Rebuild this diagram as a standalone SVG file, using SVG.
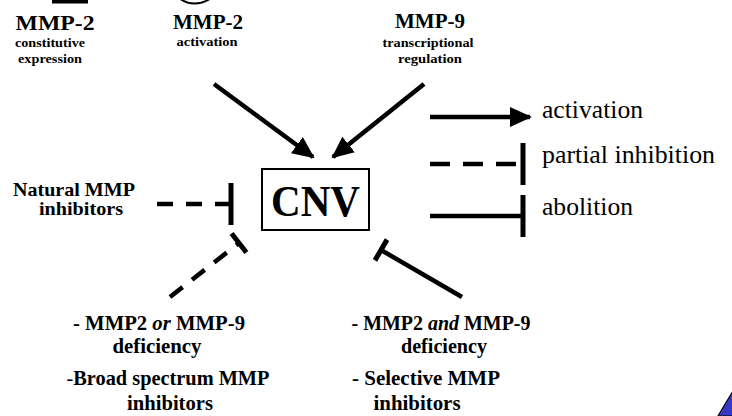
<svg xmlns="http://www.w3.org/2000/svg" width="732" height="416" viewBox="0 0 732 416">
<style>
.b{font-weight:bold;fill:#000;text-anchor:middle}
.l{font-size:25px;fill:#000}
.ln{stroke:#000;stroke-width:4.5;fill:none}
.ds{stroke-dasharray:16 13}
</style>
<defs>
<marker id="arr" markerUnits="userSpaceOnUse" markerWidth="24" markerHeight="22" viewBox="0 -11 24 22" refX="20" refY="0" orient="auto"><path d="M0,-10 L22,0 L0,10 Z" fill="#000"/></marker>
<marker id="barL" markerUnits="userSpaceOnUse" markerWidth="6" markerHeight="44" viewBox="-3 -22 6 44" refX="0" refY="0" orient="auto"><rect x="-2.5" y="-21" width="5" height="42" fill="#000"/></marker>
<marker id="barS" markerUnits="userSpaceOnUse" markerWidth="6" markerHeight="26" viewBox="-3 -13 6 26" refX="0" refY="0" orient="auto"><rect x="-2.5" y="-12" width="5" height="24" fill="#000"/></marker>
</defs>
<rect width="732" height="416" fill="#fff"/>
<!-- cropped top elements -->
<rect x="52" y="0" width="36" height="3.5" fill="#000"/>
<path d="M180,0 Q194,9 210,0 L206,0 Q194,5 184,0 Z" fill="#000"/>
<!-- bottom-right blue corner -->
<path d="M718,416 Q725,404 733,391 L733,416 Z" fill="#3838c8" stroke="#000" stroke-width="1.2"/>

<g font-family="Liberation Serif, Times New Roman, DejaVu Serif, serif">
<g id="mmp2-const">
<text class="b" x="55" y="30" font-size="22" textLength="79" lengthAdjust="spacingAndGlyphs">MMP-2</text>
<text class="b" x="50" y="47" font-size="13.5" textLength="70" lengthAdjust="spacingAndGlyphs">constitutive</text>
<text class="b" x="50" y="63" font-size="13.5" textLength="64" lengthAdjust="spacingAndGlyphs">expression</text>
</g>
<g id="mmp2-act">
<text class="b" x="208" y="29" font-size="22" textLength="70" lengthAdjust="spacingAndGlyphs">MMP-2</text>
<text class="b" x="207" y="46" font-size="13.5" textLength="61" lengthAdjust="spacingAndGlyphs">activation</text>
</g>
<g id="mmp9">
<text class="b" x="430" y="28" font-size="22" textLength="70" lengthAdjust="spacingAndGlyphs">MMP-9</text>
<text class="b" x="428" y="47" font-size="13.5" textLength="91" lengthAdjust="spacingAndGlyphs">transcriptional</text>
<text class="b" x="430" y="63" font-size="13.5" textLength="64" lengthAdjust="spacingAndGlyphs">regulation</text>
</g>
<g id="cnv">
<rect x="262" y="169" width="107" height="61" fill="none" stroke="#000" stroke-width="2"/>
<text class="b" x="315.5" y="216" font-size="44" textLength="89" lengthAdjust="spacingAndGlyphs">CNV</text>
</g>
<g id="natural">
<text class="b" x="74" y="196" font-size="19" textLength="122" lengthAdjust="spacingAndGlyphs">Natural MMP</text>
<text class="b" x="81" y="215" font-size="19" textLength="84" lengthAdjust="spacingAndGlyphs">inhibitors</text>
</g>
<g id="or-deficiency">
<text class="b" x="159" y="330" font-size="20" textLength="172" lengthAdjust="spacingAndGlyphs">- MMP2 <tspan font-style="italic">or</tspan> MMP-9</text>
<text class="b" x="157" y="353" font-size="20" textLength="89" lengthAdjust="spacingAndGlyphs">deficiency</text>
<text class="b" x="168" y="385" font-size="20" textLength="203" lengthAdjust="spacingAndGlyphs"><tspan font-weight="normal">-</tspan>Broad spectrum MMP</text>
<text class="b" x="170" y="410" font-size="20" textLength="86" lengthAdjust="spacingAndGlyphs">inhibitors</text>
</g>
<g id="and-deficiency">
<text class="b" x="441" y="330" font-size="20" textLength="179" lengthAdjust="spacingAndGlyphs">- MMP2 <tspan font-style="italic">and</tspan> MMP-9</text>
<text class="b" x="444" y="353" font-size="20" textLength="86" lengthAdjust="spacingAndGlyphs">deficiency</text>
<text class="b" x="426" y="385" font-size="20" textLength="148" lengthAdjust="spacingAndGlyphs">- Selective MMP</text>
<text class="b" x="417" y="410" font-size="20" textLength="87" lengthAdjust="spacingAndGlyphs">inhibitors</text>
</g>
<g id="legend">
<text class="l" x="542" y="118" textLength="101" lengthAdjust="spacingAndGlyphs">activation</text>
<text class="l" x="542" y="163" textLength="173" lengthAdjust="spacingAndGlyphs">partial inhibition</text>
<text class="l" x="542" y="215" textLength="91" lengthAdjust="spacingAndGlyphs">abolition</text>
</g>
</g>
<g id="connectors">
<line class="ln" x1="214" y1="84" x2="313" y2="157" marker-end="url(#arr)"/>
<line class="ln" x1="424" y1="84" x2="333" y2="157" marker-end="url(#arr)"/>
<line class="ln ds" x1="157" y1="204" x2="231" y2="204" marker-end="url(#barL)"/>
<line class="ln" x1="170" y1="297" x2="239" y2="243" stroke-dasharray="16 12" marker-end="url(#barS)"/>
<line class="ln" x1="462" y1="297" x2="381" y2="250" marker-end="url(#barS)"/>
<line class="ln" x1="430" y1="117" x2="530" y2="117" marker-end="url(#arr)"/>
<line class="ln" x1="430" y1="164" x2="523" y2="164" stroke-dasharray="20 13" marker-end="url(#barL)"/>
<line class="ln" x1="430" y1="216" x2="523" y2="216" marker-end="url(#barL)"/>
</g>
</svg>
